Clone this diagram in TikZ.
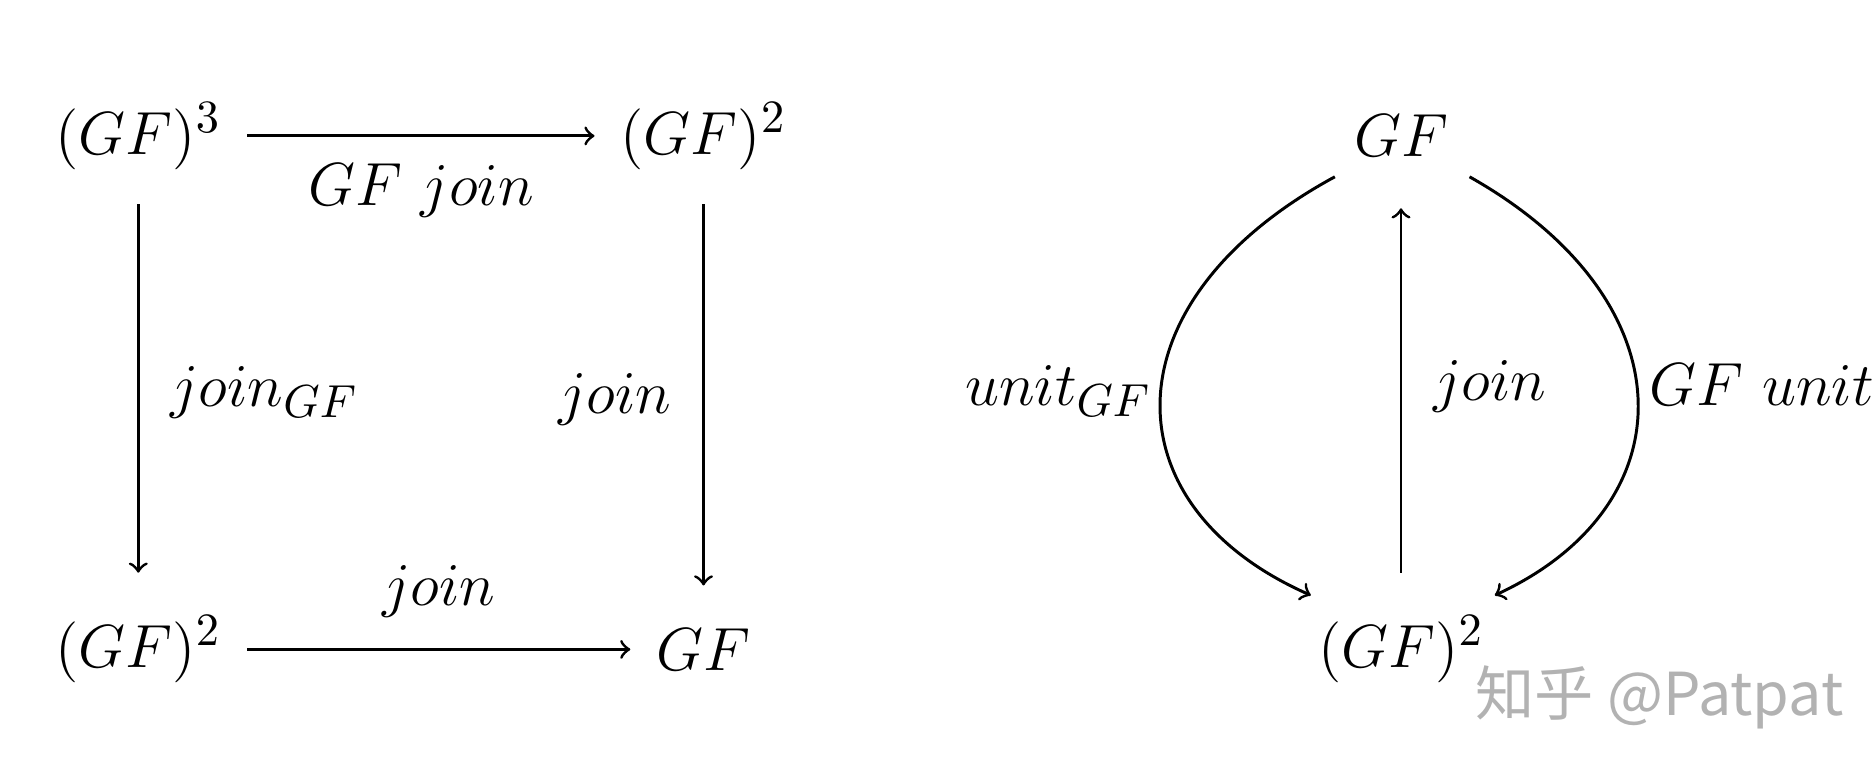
\documentclass[tikz,border=0pt]{standalone}
\usepackage{fontspec}
\newfontfamily\cjk{Noto Sans CJK SC}
\begin{document}
\begin{tikzpicture}[x=0.01cm,y=-0.01cm,
  obj/.style={inner sep=6pt,font=\fontsize{15}{18}\selectfont},
  lab/.style={font=\fontsize{15}{18}\selectfont},
  arr/.style={->,line width=0.7pt}]
\useasboundingbox (0,0) rectangle (1560,647);
\node[obj] (a) at (115,113) {$(GF)^3$};
\node[obj] (b) at (585,113) {$(GF)^2$};
\node[obj] (c) at (115,540) {$(GF)^2$};
\node[obj] (d) at (585,540) {$GF$};
\draw[arr] (a) -- (b) node[lab,midway,below=3pt] {$GF\ join$};
\draw[arr,shorten <=2pt,shorten >=4pt] (a) -- (c) node[lab,midway,right=4pt] {$join_{GF}$};
\draw[arr,shorten <=2pt,shorten >=4pt] (b) -- (d) node[lab,midway,left=4pt] {$join$};
\draw[arr] (c) -- (d.west) node[lab,midway,above=4pt] {$join$};
\node[obj] (e) at (1165,113) {$GF$};
\node[obj] (f) at (1165,540) {$(GF)^2$};
\draw[arr,shorten <=4pt,shorten >=6pt] (f) -- (e) node[lab,midway,right=4pt] {$join$};
\coordinate (l1) at (1110,147);
\coordinate (r1) at (1222,147);
\coordinate (l2) at (1090,495);
\coordinate (r2) at (1243,495);
\draw[arr] (l1) .. controls (920,250) and (920,420) .. (l2);
\draw[arr] (r1) .. controls (1405,250) and (1405,420) .. (r2);
\node[lab] (ul) at (880,325) {$unit_{GF}$};
\node[lab] (ur) at (1465,320) {$GF\ unit$};
\node[text=gray!60,font=\cjk\fontsize{14}{17}\selectfont] (w) at (1380,580) {知乎 @Patpat};
\end{tikzpicture}
\end{document}
